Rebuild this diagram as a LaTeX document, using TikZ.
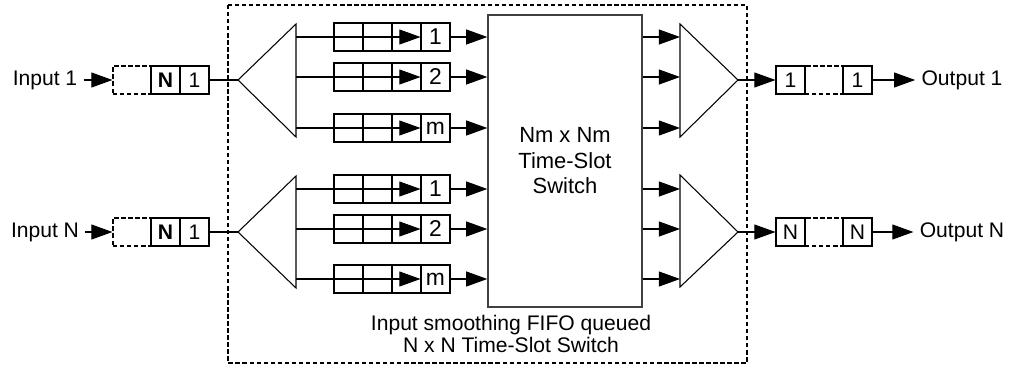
\documentclass[tikz,border=0pt]{standalone}
\usepackage{fontspec}
\setmainfont{Liberation Sans}
\usetikzlibrary{arrows.meta}

\begin{document}
\begin{tikzpicture}[
    x=0.02cm, y=-0.02cm, line width=0.6pt,
    font=\fontsize{12}{14}\selectfont,
    cell/.style={draw, minimum width=0.58cm, minimum height=0.56cm, inner sep=0pt},
    gapcell/.style={draw, dash pattern=on 2.5pt off 1.5pt, minimum width=0.76cm, minimum height=0.56cm, inner sep=0pt},
    flow/.style={-{Triangle[length=12pt, width=8.5pt]}},
    frame/.style={draw, dash pattern=on 2.5pt off 1.5pt}
]
\useasboundingbox (0,0) rectangle (1013,368);

\draw[frame] (228,5) rectangle (747,363);

\node[draw, draw=black!75, line width=0.8pt, minimum width=3.08cm, minimum height=5.84cm, align=center, font=\fontsize{12.5}{14.5}\selectfont] (sw) at (565,161) {Nm x Nm\\Time-Slot\\Switch};
\node[align=center, font=\fontsize{12}{13}\selectfont] (lbl) at (511,334) {Input smoothing FIFO queued\\N x N Time-Slot Switch};

\node (in1) at (45,80) {Input 1};
\node[gapcell] (g1) at (132,80) {};
\node[cell] (n1) at (165.5,80) {\textbf{N}};
\node[cell] (o1) at (194.5,80) {1};

\node (inN) at (45,232) {Input N};
\node[gapcell] (gN) at (132,232) {};
\node[cell] (nN) at (165.5,232) {\textbf{N}};
\node[cell] (oN) at (194.5,232) {1};

\coordinate (da1) at (238,80);
\coordinate (da1t) at (296,24);
\coordinate (da1b) at (296,137);
\coordinate (daN) at (238,232);
\coordinate (daNt) at (296,176);
\coordinate (daNb) at (296,288);
\draw (da1t) -- (da1) -- (da1b) -- cycle;
\draw (daNt) -- (daN) -- (daNb) -- cycle;

\coordinate (ma1) at (738,80);
\coordinate (ma1t) at (680,24);
\coordinate (ma1b) at (680,137);
\coordinate (maN) at (738,232);
\coordinate (maNt) at (680,175);
\coordinate (maNb) at (680,287);
\draw (ma1t) -- (ma1) -- (ma1b) -- cycle;
\draw (maNt) -- (maN) -- (maNb) -- cycle;

\draw[flow] (in1) -- (g1);
\draw (o1) -- (da1);
\draw[flow] (inN) -- (gN);
\draw (oN) -- (daN);

\foreach \q/\y/\lab in {a1/37/1, a2/77/2, am/128/m, b1/189/1, b2/229/2, bm/279/m} {
  \foreach \i/\x in {1/348.5, 2/377.5, 3/406.5}
    \node[cell] (\q\i) at (\x,\y) {};
  \node[cell, font=\fontsize{13}{15}\selectfont] (\q4) at (435.5,\y) {\lab};
  \coordinate (\q s) at (296,\y);
  \coordinate (\q t) at (680,\y);
  \draw[flow] (\q s) -- (\q4.west);
  \draw[flow] (\q4.east) -- (\q4.east -| sw.west);
  \draw[flow] (sw.east |- \q t) -- (\q t);
}

\node[gapcell] (pg1) at (824,80) {};
\node[cell] (p1) at (790.5,80) {1};
\node[cell] (q1) at (857.5,80) {1};
\node (out1) at (962,80) {Output 1};

\node[gapcell] (pgN) at (824,232) {};
\node[cell] (pN) at (790.5,232) {N};
\node[cell] (qN) at (857.5,232) {N};
\node (outN) at (962,232) {Output N};

\draw[flow] (ma1) -- (p1);
\draw[flow] (q1) -- (out1);
\draw[flow] (maN) -- (pN);
\draw[flow] (qN) -- (outN);
\end{tikzpicture}
\end{document}
